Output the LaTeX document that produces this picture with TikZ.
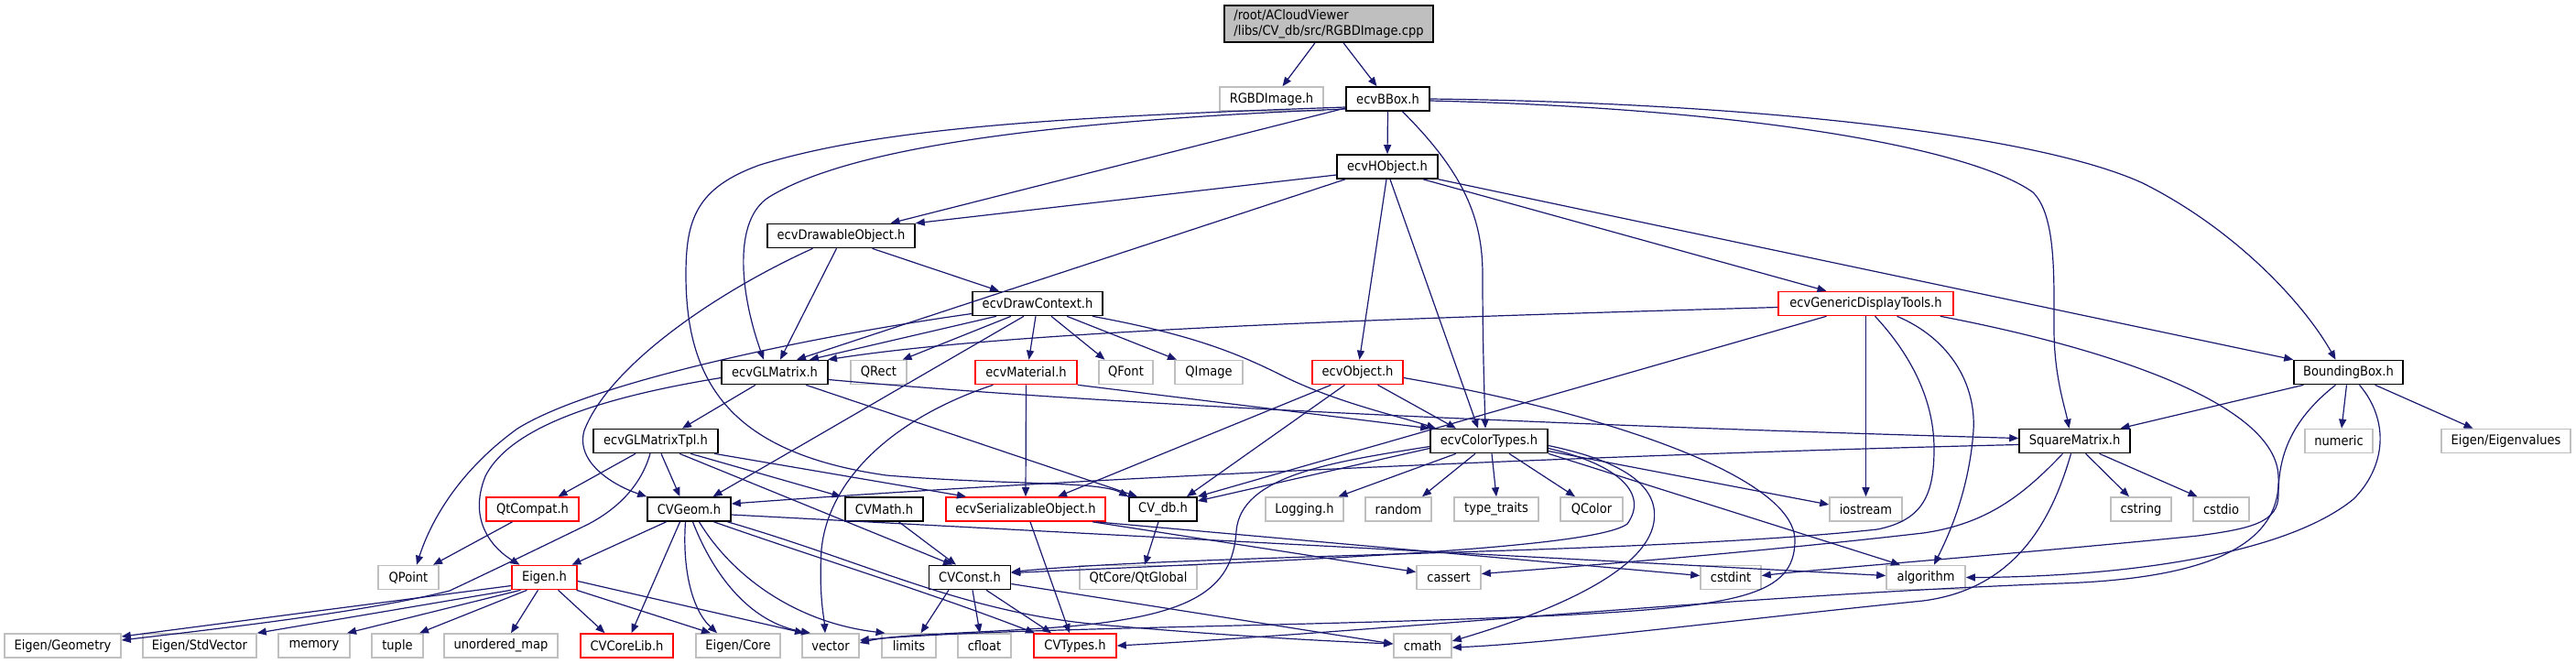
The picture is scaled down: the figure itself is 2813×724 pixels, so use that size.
\documentclass[tikz,border=0pt]{standalone}
\usepackage{fontspec}
\newfontfamily\nodefont[FakeStretch=0.9]{DejaVu Sans}
\usetikzlibrary{arrows.meta,calc}
\definecolor{edgeblue}{HTML}{191970}
\definecolor{extgrey}{HTML}{BFBFBF}
\definecolor{topfill}{HTML}{BFBFBF}
\tikzset{
 nbox/.style={rectangle, inner sep=0pt, minimum height=26pt, line width=1.6pt, fill=white, text=black, font=\nodefont\fontsize{14.5}{16.5}\selectfont},
 docn/.style={nbox, draw=black},
 extn/.style={nbox, draw=extgrey},
 redn/.style={nbox, draw=red},
 dep/.style={draw=edgeblue, line width=1.2pt, -{Triangle[length=10pt,width=8pt]}}
}
\begin{document}
\begin{tikzpicture}[x=1pt,y=-1pt]
\useasboundingbox[fill=white] (0,0) rectangle (2813,724);
% nodes
\node[docn, fill=topfill, minimum width=228pt, minimum height=40pt, align=left] (top) at (1451,26) {/root/ACloudViewer\\/libs/CV\_db/src/RGBDImage.cpp};
\node[extn, minimum width=113pt] (rgbd) at (1388.5,108) {RGBDImage.h};
\node[docn, minimum width=91pt] (bbox) at (1515.5,108) {ecvBBox.h};
\node[docn, minimum width=110pt] (hobj) at (1515,182) {ecvHObject.h};
\node[docn, minimum width=161pt] (drawable) at (918.5,257.5) {ecvDrawableObject.h};
\node[docn, minimum width=142pt] (drawctx) at (1133,331.5) {ecvDrawContext.h};
\node[redn, minimum width=191pt] (gdt) at (2037.5,331.5) {ecvGenericDisplayTools.h};
\node[docn, minimum width=116pt] (glm) at (846,406.5) {ecvGLMatrix.h};
\node[extn, minimum width=61pt] (qrect) at (959.5,406.5) {QRect};
\node[redn, minimum width=111pt] (material) at (1120.5,406.5) {ecvMaterial.h};
\node[extn, minimum width=59pt] (qfont) at (1229.5,406.5) {QFont};
\node[extn, minimum width=74pt] (qimage) at (1320,406.5) {QImage};
\node[redn, minimum width=99pt] (obj) at (1482.5,406.5) {ecvObject.h};
\node[docn, minimum width=119pt] (bb) at (2564.5,406.5) {BoundingBox.h};
\node[docn, minimum width=136pt] (glmtpl) at (716,481.5) {ecvGLMatrixTpl.h};
\node[docn, minimum width=128pt] (color) at (1626,481.5) {ecvColorTypes.h};
\node[docn, minimum width=121pt] (sqm) at (2265.5,481.5) {SquareMatrix.h};
\node[extn, minimum width=74pt] (numeric) at (2554,481.5) {numeric};
\node[extn, minimum width=141pt] (eigval) at (2736.5,481.5) {Eigen/Eigenvalues};
\node[redn, minimum width=101pt] (qtcompat) at (581.5,556) {QtCompat.h};
\node[docn, minimum width=91pt] (cvgeom) at (752.5,556) {CVGeom.h};
\node[docn, minimum width=85pt] (cvmath) at (965.5,556) {CVMath.h};
\node[redn, minimum width=174pt] (serial) at (1120,556) {ecvSerializableObject.h};
\node[docn, minimum width=74pt] (cvdb) at (1270,556) {CV\_db.h};
\node[extn, minimum width=85pt] (logging) at (1424.5,556) {Logging.h};
\node[extn, minimum width=72pt] (random) at (1527,556) {random};
\node[extn, minimum width=92pt] (typetraits) at (1634,556) {type\_traits};
\node[extn, minimum width=68pt] (qcolor) at (1738,556) {QColor};
\node[extn, minimum width=79pt] (iostream) at (2037.5,556) {iostream};
\node[extn, minimum width=66pt] (cstring) at (2338,556) {cstring};
\node[extn, minimum width=61pt] (cstdio) at (2425.5,556) {cstdio};
\node[extn, minimum width=66pt] (qpoint) at (446,630.5) {QPoint};
\node[redn, minimum width=71pt] (eigen) at (594.5,630.5) {Eigen.h};
\node[docn, minimum width=89pt] (cvconst) at (1059,630.5) {CVConst.h};
\node[extn, minimum width=128pt] (qtglobal) at (1243,630.5) {QtCore/QtGlobal};
\node[extn, minimum width=70pt] (cassert) at (1582,630.5) {cassert};
\node[extn, minimum width=66pt] (cstdint) at (1890,630.5) {cstdint};
\node[extn, minimum width=86pt] (algorithm) at (2103,630.5) {algorithm};
\node[extn, minimum width=127pt] (eigeom) at (68.5,705) {Eigen/Geometry};
\node[extn, minimum width=124pt] (eistd) at (218,705) {Eigen/StdVector};
\node[extn, minimum width=78pt] (memory) at (343,705) {memory};
\node[extn, minimum width=56pt] (tuple) at (434,705) {tuple};
\node[extn, minimum width=124pt] (umap) at (547,705) {unordered\_map};
\node[redn, minimum width=101pt] (corelib) at (684.5,705) {CVCoreLib.h};
\node[extn, minimum width=92pt] (eicore) at (806,705) {Eigen/Core};
\node[extn, minimum width=62pt] (vector) at (907,705) {vector};
\node[extn, minimum width=59pt] (limits) at (992.5,705) {limits};
\node[extn, minimum width=58pt] (cfloat) at (1075,705) {cfloat};
\node[redn, minimum width=90pt] (cvtypes) at (1174,705) {CVTypes.h};
\node[extn, minimum width=63pt] (cmath) at (1553.5,705) {cmath};
% edges
\draw[dep] ([xshift=-15pt]top.south) -- ([xshift=12pt]rgbd.north);
\draw[dep] ([xshift=16pt]top.south) -- ([xshift=-12pt]bbox.north);
% ecvBBox.h
\draw[dep] (bbox.south) -- (hobj.north);
\draw[dep] ([yshift=-10pt]bbox.west) -- ([xshift=54pt]drawable.north);
\draw[dep] ([yshift=-11pt]bbox.west) .. controls (1150,132) and (930,160) .. (840,215) .. controls (800,240) and (808,320) .. ([xshift=-12pt]glm.north);
\draw[dep] ([yshift=-9pt]bbox.west) .. controls (1150,128) and (960,140) .. (830,180) .. controls (760,205) and (749,240) .. (749,300) .. controls (749,420) and (800,495) .. (968,519) .. controls (1100,530) and (1200,525) .. (cvdb.north west);
\draw[dep] ([xshift=16pt]bbox.south) .. controls (1600,190) and (1619,240) .. (1619,300) .. controls (1619,380) and (1621,430) .. ([xshift=-4pt]color.north);
\draw[dep] ([yshift=-2pt]bbox.east) .. controls (1900,118) and (2150,160) .. (2220,210) .. controls (2245,235) and (2243,300) .. (2243,360) .. controls (2243,410) and (2255,445) .. ([xshift=-6pt]sqm.north);
\draw[dep] (bbox.east) .. controls (1900,112) and (2220,145) .. (2340,200) .. controls (2440,250) and (2515,330) .. ([xshift=-14pt]bb.north);
% ecvHObject.h
\draw[dep] ([yshift=-9pt]hobj.west) -- (drawable.north east);
\draw[dep] ([xshift=-46pt]hobj.south) -- ([xshift=24pt]glm.north);
\draw[dep] ([xshift=-1pt]hobj.south) -- ([xshift=2pt]obj.north);
\draw[dep] ([xshift=3pt]hobj.south) -- ([xshift=-12pt]color.north);
\draw[dep] ([xshift=39pt]hobj.south) -- ([xshift=-43pt]gdt.north);
\draw[dep] (hobj.south east) -- (bb.north west);
% ecvDrawableObject.h
\draw[dep] ([xshift=-31pt]drawable.south) .. controls (780,320) and (665,400) .. (638,470) .. controls (628,505) and (670,530) .. (cvgeom.north west);
\draw[dep] ([xshift=-5pt]drawable.south) -- ([xshift=6pt]glm.north);
\draw[dep] ([xshift=34pt]drawable.south) -- ([xshift=-42pt]drawctx.north);
% ecvDrawContext.h
\draw[dep] ([yshift=-11pt]drawctx.west) .. controls (900,365) and (650,415) .. (565,468) .. controls (500,515) and (470,570) .. ([xshift=9pt]qpoint.north);
\draw[dep] ([xshift=-45pt]drawctx.south) -- ([xshift=38pt]glm.north);
\draw[dep] ([xshift=-29pt]drawctx.south) -- ([xshift=26pt]qrect.north);
\draw[dep] ([xshift=-15pt]drawctx.south) -- ([xshift=26pt]cvgeom.north);
\draw[dep] ([xshift=-2pt]drawctx.south) -- ([xshift=3pt]material.north);
\draw[dep] ([xshift=15pt]drawctx.south) -- ([xshift=-23pt]qfont.north);
\draw[dep] ([xshift=32pt]drawctx.south) -- ([xshift=-35pt]qimage.north);
\draw[dep] ([xshift=60pt]drawctx.south) .. controls (1300,365) and (1350,385) .. (1400,410) .. controls (1460,440) and (1530,455) .. ([xshift=-58pt]color.north);
% ecvGenericDisplayTools.h
\draw[dep] ([yshift=-4pt]gdt.west) .. controls (1500,348) and (1100,362) .. ([xshift=58pt]glm.north);
\draw[dep] ([xshift=-43pt]gdt.south) -- (cvdb.north east);
\draw[dep] (gdt.south) -- (iostream.north);
\draw[dep] ([xshift=34pt]gdt.south) .. controls (2130,370) and (2158,420) .. (2155,470) .. controls (2150,540) and (2125,590) .. ([xshift=9pt]algorithm.north);
\draw[dep] ([xshift=10pt]gdt.south) .. controls (2080,380) and (2112,430) .. (2112,490) .. controls (2112,540) and (2100,568) .. (2050,578) .. controls (1800,605) and (1300,605) .. ([yshift=6pt]cvconst.east);
\draw[dep] ([xshift=-15pt]gdt.south east) .. controls (2300,380) and (2485,440) .. (2488,520) .. controls (2492,600) and (2400,632) .. (2250,637) .. controls (1900,650) and (1500,690) .. (cvtypes.east);
% ecvGLMatrix.h
\draw[dep] ([yshift=-6pt]glm.west) .. controls (680,430) and (560,460) .. (530,520) .. controls (510,570) and (540,600) .. ([xshift=-27pt]eigen.north);
\draw[dep] ([xshift=-21pt]glm.south) -- ([xshift=29pt]glmtpl.north);
\draw[dep] ([xshift=34pt]glm.south) -- ([xshift=-28pt]cvdb.north);
\draw[dep] ([yshift=-8pt]glm.east) .. controls (1300,450) and (1900,470) .. ([yshift=3pt]sqm.west);
% ecvMaterial.h
\draw[dep] (material.south) -- (serial.north);
\draw[dep] ([xshift=-36pt]material.south) .. controls (980,455) and (905,520) .. (897,600) .. controls (894,650) and (900,675) .. ([xshift=-6pt]vector.north);
\draw[dep] (material.south east) -- (color.north west);
% ecvObject.h
\draw[dep] ([xshift=-29pt]obj.south) -- ([xshift=35pt]serial.north);
\draw[dep] ([xshift=-14pt]obj.south) -- ([xshift=26pt]cvdb.north);
\draw[dep] ([xshift=22pt]obj.south) -- ([xshift=-36pt]color.north);
\draw[dep] ([yshift=-6pt]obj.east) .. controls (1750,450) and (1960,520) .. (1960,590) .. controls (1960,650) and (1900,662) .. (1700,672) .. controls (1400,685) and (1100,685) .. ([yshift=6pt]vector.east);
% BoundingBox.h
\draw[dep] ([xshift=-49pt]bb.south) -- ([xshift=50pt]sqm.north);
\draw[dep] ([xshift=-2pt]bb.south) -- ([xshift=3pt]numeric.north);
\draw[dep] ([xshift=29pt]bb.south) -- ([xshift=-36pt]eigval.north);
\draw[dep] ([xshift=-14pt]bb.south) .. controls (2500,460) and (2488,500) .. (2488,540) .. controls (2488,570) and (2460,577) .. (2400,585) .. controls (2200,605) and (2000,620) .. ([yshift=2pt]cstdint.east);
\draw[dep] ([xshift=12pt]bb.south) .. controls (2610,460) and (2605,510) .. (2570,545) .. controls (2490,610) and (2300,630) .. (algorithm.east);
% ecvGLMatrixTpl.h
\draw[dep] ([xshift=-22pt]glmtpl.south) -- ([xshift=28pt]qtcompat.north);
\draw[dep] ([xshift=-6pt]glmtpl.south) .. controls (700,530) and (675,555) .. (643,572) .. controls (600,593) and (540,622) .. (491,645) .. controls (400,668) and (250,685) .. ([yshift=6pt]eigeom.east);
\draw[dep] ([xshift=6pt]glmtpl.south) -- ([xshift=-10pt]cvgeom.north);
\draw[dep] ([xshift=26pt]glmtpl.south) -- ([xshift=-19pt]cvconst.north);
\draw[dep] ([xshift=38pt]glmtpl.south) -- ([xshift=-47pt]cvmath.north);
\draw[dep] ([xshift=64pt]glmtpl.south) -- ([xshift=-65pt]serial.north);
% QtCompat.h
\draw[dep] ([xshift=-22pt]qtcompat.south) -- ([xshift=27pt]qpoint.north);
% CVGeom.h
\draw[dep] ([xshift=-25pt]cvgeom.south) -- ([xshift=30pt]eigen.north);
\draw[dep] ([xshift=-10pt]cvgeom.south) -- ([xshift=5pt]corelib.north);
\draw[dep] ([xshift=-4pt]cvgeom.south) .. controls (745,620) and (755,665) .. ([xshift=-23pt]eicore.north);
\draw[dep] ([xshift=4pt]cvgeom.south) .. controls (780,630) and (820,680) .. ([xshift=-22pt]vector.north);
\draw[dep] ([xshift=11pt]cvgeom.south) .. controls (800,630) and (870,680) .. ([xshift=-26pt]limits.north);
\draw[dep] ([xshift=27pt]cvgeom.south) .. controls (900,612) and (1010,645) .. ([xshift=-44pt]cvtypes.north);
\draw[dep] ([xshift=42pt]cvgeom.south) .. controls (950,615) and (1050,668) .. (1200,682) .. controls (1350,695) and (1450,700) .. ([yshift=2pt]cmath.west);
\draw[dep] ([yshift=-6pt]cvgeom.east) -- ([yshift=2pt]algorithm.west);
% Eigen.h
\draw[dep] ([yshift=-9pt]eigen.west) -- ([yshift=10pt]eigeom.east);
\draw[dep] (eigen.south west) -- (eistd.north east);
\draw[dep] ([xshift=-26pt]eigen.south) -- ([xshift=36pt]memory.north);
\draw[dep] ([xshift=-19pt]eigen.south) -- ([xshift=24pt]tuple.north);
\draw[dep] ([xshift=-7pt]eigen.south) -- ([xshift=11pt]umap.north);
\draw[dep] ([xshift=15pt]eigen.south) -- ([xshift=-24pt]corelib.north);
\draw[dep] ([xshift=35pt]eigen.south) -- ([xshift=-30pt]eicore.north);
\draw[dep] ([yshift=-4pt]eigen.east) -- ([xshift=-29pt]vector.north);
% others
\draw[dep] ([xshift=16pt]cvmath.south) -- ([xshift=-15pt]cvconst.north);
\draw[dep] ([xshift=5pt]serial.south) -- ([xshift=-6pt]cvtypes.north);
\draw[dep] ([xshift=73pt]serial.south) -- ([yshift=6pt]cassert.west);
\draw[dep] ([xshift=77pt]serial.south) -- ([yshift=2pt]cstdint.west);
\draw[dep] ([xshift=-5pt]cvdb.south) -- ([xshift=7pt]qtglobal.north);
% ecvColorTypes.h
\draw[dep] ([yshift=-8pt]color.west) -- ([yshift=9pt]cvdb.east);
\draw[dep] ([xshift=-36pt]color.south) -- ([xshift=37pt]logging.north);
\draw[dep] ([xshift=-15pt]color.south) -- ([xshift=26pt]random.north);
\draw[dep] ([xshift=3pt]color.south) -- (typetraits.north);
\draw[dep] ([xshift=22pt]color.south) -- ([xshift=-18pt]qcolor.north);
\draw[dep] ([yshift=-11pt]color.east) -- ([yshift=5pt]iostream.west);
\draw[dep] (color.south east) -- ([xshift=-28pt]algorithm.north);
\draw[dep] ([yshift=-5pt]color.east) .. controls (1780,505) and (1815,535) .. (1805,575) .. controls (1790,630) and (1680,672) .. ([yshift=5pt]cmath.east);
\draw[dep] ([yshift=-8pt]color.east) .. controls (1770,508) and (1800,540) .. (1777,572) .. controls (1740,600) and (1400,612) .. ([yshift=5pt]cvconst.east);
\draw[dep] ([yshift=-6pt]color.west) .. controls (1450,505) and (1355,520) .. (1350,580) .. controls (1346,645) and (1300,672) .. (1167,684) .. controls (1060,692) and (980,692) .. ([yshift=3pt]vector.east);
% SquareMatrix.h
\draw[dep] ([yshift=-4pt]sqm.west) .. controls (1800,495) and (1200,520) .. ([yshift=6pt]cvgeom.east);
\draw[dep] ([xshift=-13pt]sqm.south) .. controls (2210,540) and (2170,572) .. (2100,582) .. controls (1900,605) and (1700,620) .. ([yshift=4pt]cassert.east);
\draw[dep] ([xshift=-4pt]sqm.south) .. controls (2240,570) and (2200,643) .. (2100,656) .. controls (1900,676) and (1700,702) .. ([yshift=-2pt]cmath.east);
\draw[dep] ([xshift=12pt]sqm.south) -- ([xshift=-13pt]cstring.north);
\draw[dep] ([xshift=27pt]sqm.south) -- ([xshift=-26pt]cstdio.north);
% CVConst.h
\draw[dep] ([xshift=-23pt]cvconst.south) -- ([xshift=13pt]limits.north);
\draw[dep] ([xshift=3pt]cvconst.south) -- ([xshift=-5pt]cfloat.north);
\draw[dep] ([xshift=18pt]cvconst.south) -- ([xshift=-26pt]cvtypes.north);
\draw[dep] ([yshift=-7pt]cvconst.east) -- ([yshift=2pt]cmath.west);
\end{tikzpicture}
\end{document}
